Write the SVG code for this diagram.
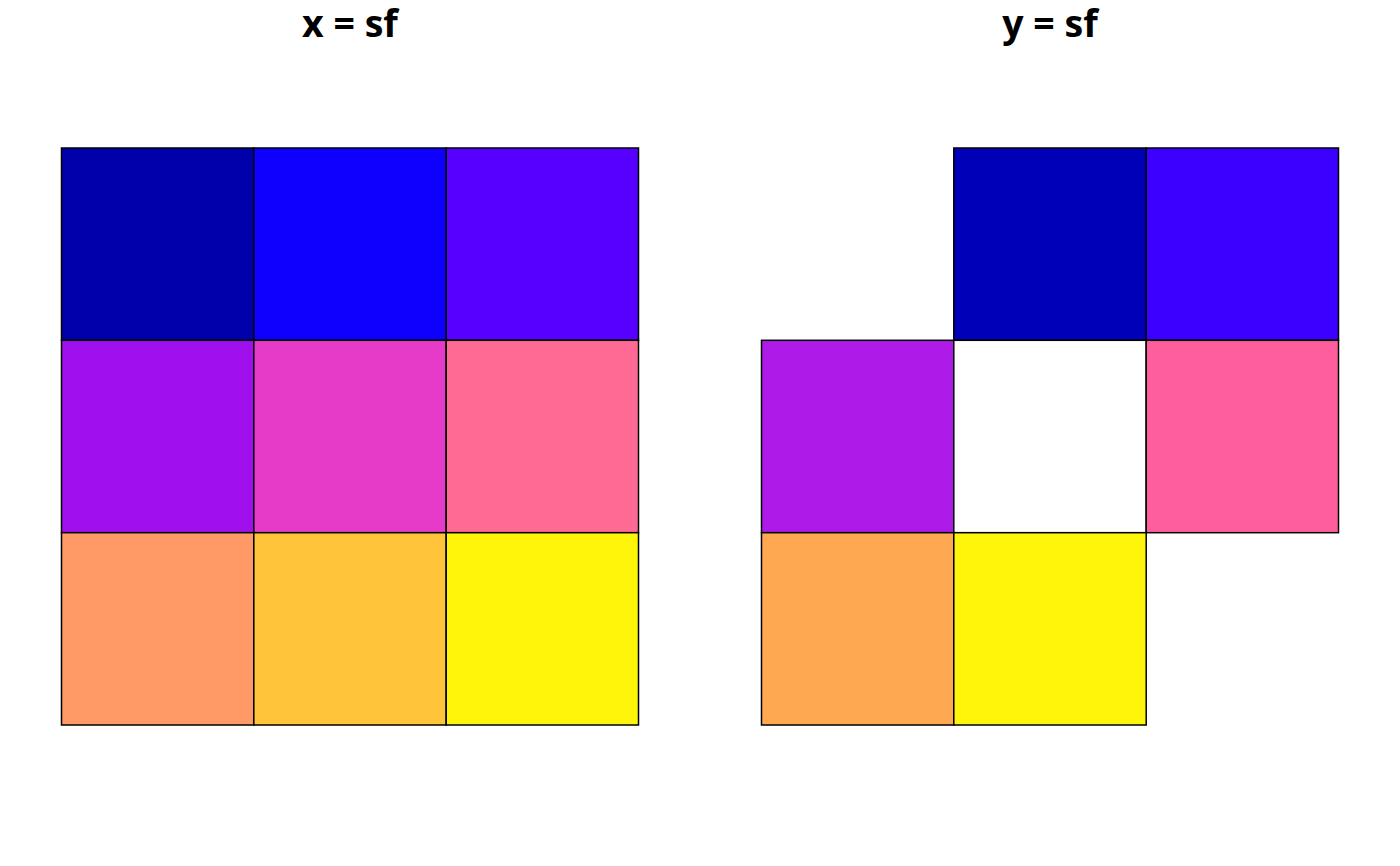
<svg xmlns="http://www.w3.org/2000/svg" width="1400" height="866" viewBox="0 0 1400 866">
<style>
.t{font-family:"Open Sans","Noto Sans","DejaVu Sans",sans-serif;font-weight:bold;font-size:37.5px;text-anchor:middle;fill:#000}
.c{stroke:#000;stroke-width:1.5}
</style>
<rect width="1400" height="866" fill="#fff"/>
<g id="panel-x">
<text class="t" x="350" y="37">x = sf</text>
<rect class="c" x="61.5" y="148" width="192.3" height="192.3" fill="#0000AA"/>
<rect class="c" x="253.8" y="148" width="192.4" height="192.3" fill="#0D00FF"/>
<rect class="c" x="446.2" y="148" width="192.3" height="192.3" fill="#5600FF"/>
<rect class="c" x="61.5" y="340.3" width="192.3" height="192.4" fill="#A010EE"/>
<rect class="c" x="253.8" y="340.3" width="192.4" height="192.4" fill="#E63AC8"/>
<rect class="c" x="446.2" y="340.3" width="192.3" height="192.4" fill="#FF6A94"/>
<rect class="c" x="61.5" y="532.7" width="192.3" height="192.3" fill="#FF9A66"/>
<rect class="c" x="253.8" y="532.7" width="192.4" height="192.3" fill="#FFC43A"/>
<rect class="c" x="446.2" y="532.7" width="192.3" height="192.3" fill="#FFF50A"/>
</g>
<g id="panel-y">
<text class="t" x="1050" y="37">y = sf</text>
<rect class="c" x="953.8" y="148" width="192.4" height="192.3" fill="#0000B8"/>
<rect class="c" x="1146.2" y="148" width="192.3" height="192.3" fill="#3B00FF"/>
<rect class="c" x="761.5" y="340.3" width="192.3" height="192.4" fill="#AE1BE8"/>
<rect class="c" x="953.8" y="340.3" width="192.4" height="192.4" fill="#FFFFFF"/>
<rect class="c" x="1146.2" y="340.3" width="192.3" height="192.4" fill="#FF5E9C"/>
<rect class="c" x="761.5" y="532.7" width="192.3" height="192.3" fill="#FFA852"/>
<rect class="c" x="953.8" y="532.7" width="192.4" height="192.3" fill="#FFF50A"/>
</g>
</svg>
